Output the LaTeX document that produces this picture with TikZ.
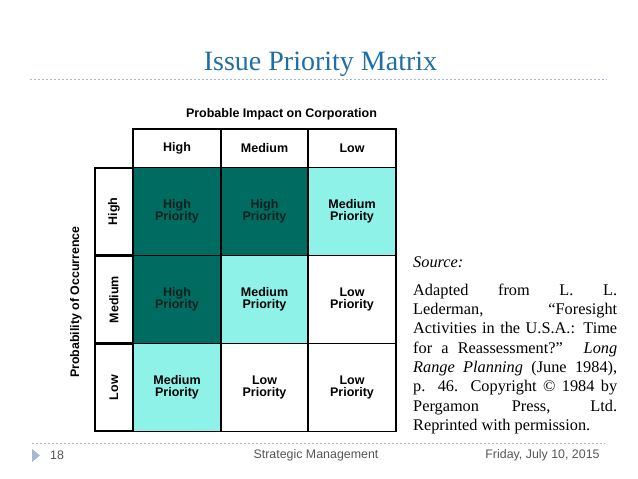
\documentclass[tikz,border=0pt]{standalone}
\usepackage{fontspec}
\setmainfont{Liberation Serif}
\setsansfont{Liberation Sans}

\definecolor{titleblue}{RGB}{31,110,165}
\definecolor{darkteal}{RGB}{0,107,96}
\definecolor{lightteal}{RGB}{143,242,232}
\definecolor{darktext}{RGB}{8,32,29}
\definecolor{rulegray}{RGB}{165,185,205}
\definecolor{footgray}{RGB}{85,85,85}

\begin{document}
\begin{tikzpicture}[x=1pt,y=-1pt,
    cell/.style={draw,line width=1.6pt,minimum width=87.5pt,minimum height=88pt,
      inner sep=0pt,align=center,font=\sffamily\bfseries\fontsize{12.5}{12}\selectfont},
    hi/.style={cell,fill=darkteal,text=darktext},
    med/.style={cell,fill=lightteal},
    lo/.style={cell,fill=white},
    headcell/.style={cell,minimum height=39pt,font=\sffamily\bfseries\fontsize{12.5}{13}\selectfont},
    rowcell/.style={cell,rotate=90,minimum height=38pt,font=\sffamily\bfseries\fontsize{12.5}{13}\selectfont},
    dashrule/.style={rulegray,line width=0.7pt,dash pattern=on 2pt off 2pt},
    foot/.style={font=\sffamily\fontsize{12.4}{13}\selectfont,text=footgray,inner sep=0pt}]
  \useasboundingbox (0,0) rectangle (638,479);
  \pgfmathsetmacro{\ca}{177}
  \pgfmathsetmacro{\cb}{264.5}
  \pgfmathsetmacro{\cc}{352}
  \pgfmathsetmacro{\ra}{211.5}
  \pgfmathsetmacro{\rb}{299.5}
  \pgfmathsetmacro{\rc}{387.5}
  % Title
  \node[anchor=base,inner sep=0pt,text=titleblue,font=\fontsize{28}{30}\selectfont]
    (title) at (320.5,70) {Issue Priority Matrix};
  \coordinate (tl) at (30,79);
  \coordinate (tr) at (607,79);
  \draw[dashrule] (tl) -- (tr);
  % Axis captions
  \node[font=\sffamily\bfseries\fontsize{12.5}{13}\selectfont] (impact) at (281.5,114)
    {Probable Impact on Corporation};
  \node[rotate=90,font=\sffamily\bfseries\fontsize{12.4}{13}\selectfont] (prob) at (76,302)
    {Probability of Occurrence};
  % Header row
  \node[headcell] (hhigh) at (\ca,148.5) {High};
  \node[headcell] (hmed) at (\cb,148.5) {Medium};
  \node[headcell] (hlow) at (\cc,148.5) {Low};
  % Row labels
  \node[rowcell] (rhigh) at (114,\ra) {High};
  \node[rowcell] (rmed) at (114,\rb) {Medium};
  \node[rowcell] (rlow) at (114,\rc) {Low};
  % Priority cells
  \node[hi] (c11) at (\ca,\ra) {High\\Priority};
  \node[hi] (c12) at (\cb,\ra) {High\\Priority};
  \node[med] (c13) at (\cc,\ra) {Medium\\Priority};
  \node[hi] (c21) at (\ca,\rb) {High\\Priority};
  \node[med] (c22) at (\cb,\rb) {Medium\\Priority};
  \node[lo] (c23) at (\cc,\rb) {Low\\Priority};
  \node[med] (c31) at (\ca,\rc) {Medium\\Priority};
  \node[lo] (c32) at (\cb,\rc) {Low\\Priority};
  \node[lo] (c33) at (\cc,\rc) {Low\\Priority};
  % Source note
  \node[anchor=base west,inner sep=0pt,text width=204pt,align=justify,
    font=\fontsize{16.3}{19.3}\selectfont] (source) at (413,267)
    {\tolerance=10000\hbadness=10000
     \textit{Source:}\par\vspace{9pt}
     Adapted from L.~L.\linebreak
     Lederman, “Foresight\linebreak
     Activities in the U.S.A.: Time\linebreak
     for a Reassessment?” \textit{Long}\linebreak
     \textit{Range Planning} (June 1984),\linebreak
     p. 46. Copyright © 1984 by\linebreak
     Pergamon Press, Ltd.\linebreak
     Reprinted with permission.\par};
  % Footer
  \coordinate (bl) at (32,443);
  \coordinate (br) at (605,443);
  \draw[dashrule] (bl) -- (br);
  \fill[rulegray] (32,449) -- (40,455.5) -- (32,462) -- cycle;
  \node[foot,anchor=west] (page) at (50,455) {18};
  \node[foot] (course) at (316,455) {Strategic Management};
  \node[foot] (date) at (542.5,455) {Friday, July 10, 2015};
\end{tikzpicture}
\end{document}
